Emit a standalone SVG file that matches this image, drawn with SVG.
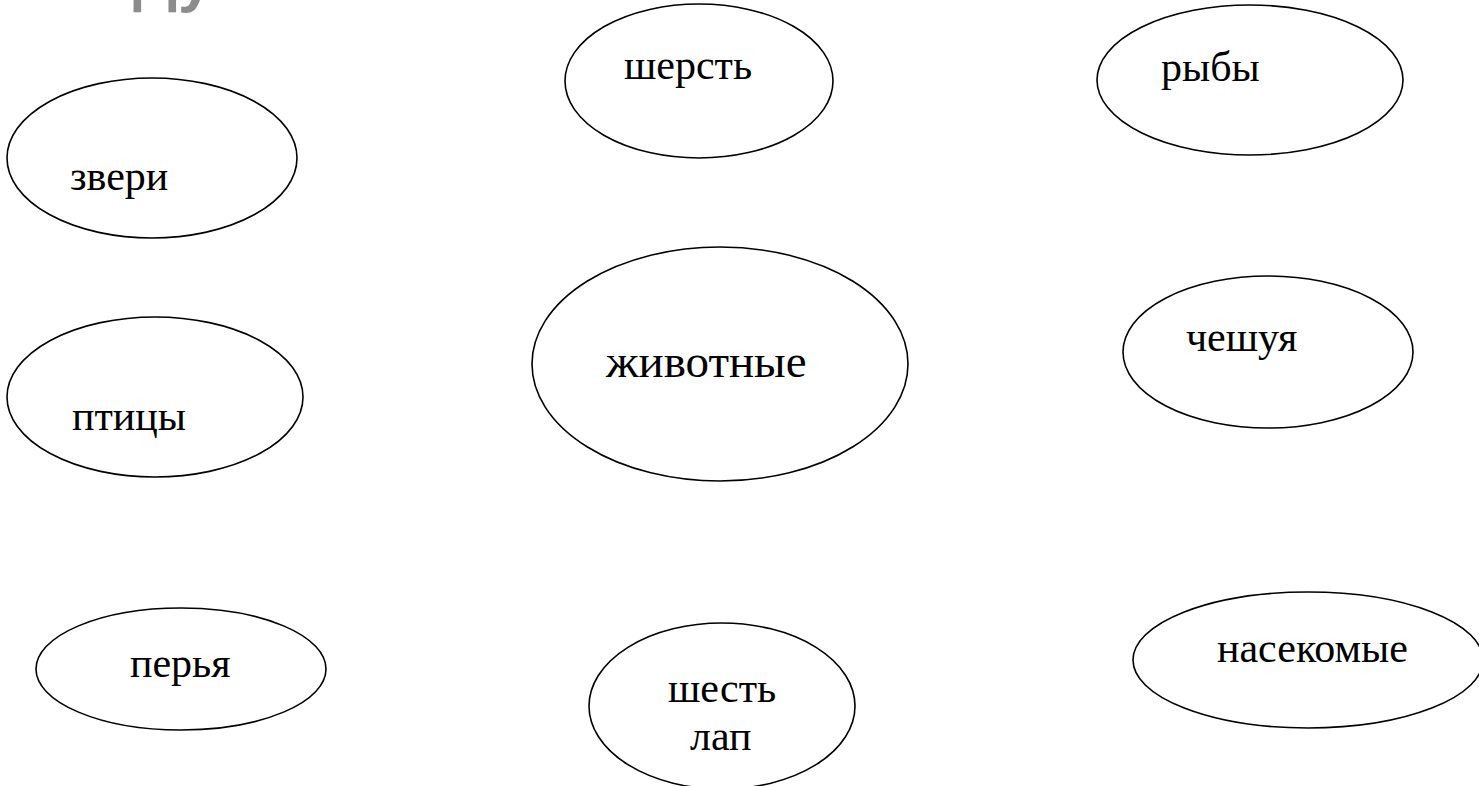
<svg xmlns="http://www.w3.org/2000/svg" width="1479" height="786" viewBox="0 0 1479 786">
<style>
  .node ellipse { fill: #ffffff; stroke: #000000; stroke-width: 1.6; }
  .lbl { font-family: "Liberation Serif", "Times New Roman", serif; font-size: 42px; fill: #000000; }
  .big { font-size: 47px; }
  .title { font-family: "Liberation Sans", Arial, sans-serif; font-weight: bold; font-size: 62px; fill: #8c8c8c; }
</style>
<rect width="1479" height="786" fill="#ffffff"/>
<text class="title" x="133" y="0">Ду</text>
<g id="connectors"></g>
<g id="node-zveri" class="node">
  <ellipse cx="152" cy="158" rx="145" ry="80"/>
  <text class="lbl" x="70" y="190">звери</text>
</g>
<g id="node-sherst" class="node">
  <ellipse cx="699" cy="81" rx="134" ry="77"/>
  <text class="lbl" x="624" y="79">шерсть</text>
</g>
<g id="node-ryby" class="node">
  <ellipse cx="1250" cy="80" rx="153" ry="75"/>
  <text class="lbl" x="1161" y="81">рыбы</text>
</g>
<g id="node-zhivotnye" class="node">
  <ellipse cx="720" cy="364" rx="188" ry="117"/>
  <text class="lbl big" x="606" y="377">животные</text>
</g>
<g id="node-cheshuya" class="node">
  <ellipse cx="1268" cy="352" rx="145" ry="76"/>
  <text class="lbl" x="1186" y="351">чешуя</text>
</g>
<g id="node-ptitsy" class="node">
  <ellipse cx="155" cy="397" rx="148" ry="80"/>
  <text class="lbl" x="72" y="430">птицы</text>
</g>
<g id="node-perya" class="node">
  <ellipse cx="181" cy="669" rx="145" ry="61"/>
  <text class="lbl" x="130" y="677">перья</text>
</g>
<g id="node-shest-lap" class="node">
  <ellipse cx="722" cy="706" rx="133" ry="83"/>
  <text class="lbl" x="668" y="702">шесть</text>
  <text class="lbl" x="690" y="750">лап</text>
</g>
<g id="node-nasekomye" class="node">
  <ellipse cx="1308" cy="660" rx="175" ry="68"/>
  <text class="lbl" x="1217" y="662">насекомые</text>
</g>
</svg>
